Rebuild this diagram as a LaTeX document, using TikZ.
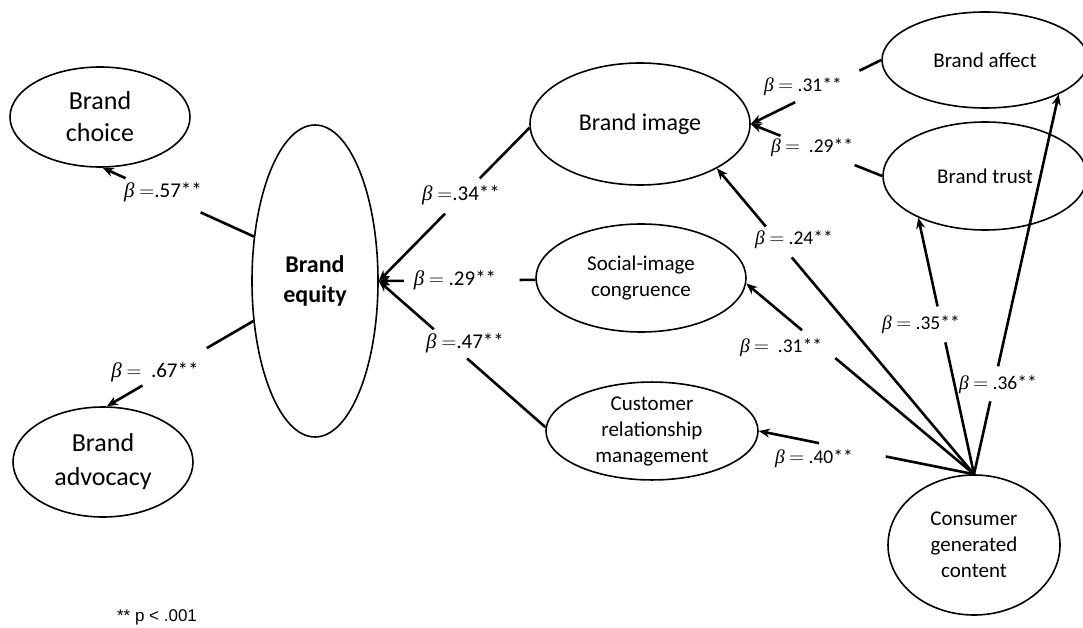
\documentclass[tikz,border=0pt]{standalone}
\usepackage{fontspec}
\setmainfont{Carlito}
\newfontfamily\notefont{Liberation Sans}
\newfontfamily\greekfont{Liberation Serif}
\usetikzlibrary{shapes.geometric,arrows.meta,calc}

% italic beta for the path coefficients
\newcommand{\bet}{{\greekfont\itshape β}}

% connector broken by a gap where its coefficient sits: source, target, gap start, gap end
\newcommand{\gaplink}[4]{%
  \draw[link] (#1) -- ($(#1)!#3!(#2)$);
  \draw[link,arr] ($(#1)!#4!(#2)$) -- (#2);}

\begin{document}
\begin{tikzpicture}[x=1pt,y=-1pt,
  latent/.style={draw,ellipse,line width=1.6pt,inner sep=0pt,align=center},
  link/.style={line width=2.6pt},
  arr/.style={-{Stealth[length=11pt,width=9pt]}},
  coefL/.style={font=\fontsize{21}{24}\selectfont,inner sep=0pt},
  coefR/.style={font=\fontsize{19.5}{22}\selectfont,inner sep=0pt}]

\useasboundingbox (0,0) rectangle (1083,628);

% constructs
\node[latent,minimum width=180pt,minimum height=100pt,font=\fontsize{26}{32}\selectfont] (bc) at (100,117) {Brand\\choice};
\node[latent,minimum width=180pt,minimum height=110pt,font=\fontsize{26}{34}\selectfont] (ba) at (103,462) {Brand\\advocacy};
\node[latent,minimum width=126pt,minimum height=312pt,font=\bfseries\fontsize{24}{30}\selectfont] (be) at (315,281) {Brand\\equity};
\node[latent,minimum width=220pt,minimum height=122pt,font=\fontsize{24}{28}\selectfont] (bi) at (640,124) {Brand image};
\node[latent,minimum width=210pt,minimum height=108pt,font=\fontsize{21}{26}\selectfont] (si) at (641,278) {Social-image\\congruence};
\node[latent,minimum width=212pt,minimum height=96pt,font=\fontsize{21}{26}\selectfont] (crm) at (652,431) {Customer\\relationship\\management};
\node[latent,minimum width=172pt,minimum height=140pt,font=\fontsize{21}{26}\selectfont] (cgc) at (974,545) {Consumer\\generated\\content};
\node[latent,minimum width=206pt,minimum height=96pt,font=\fontsize{21}{26}\selectfont] (baf) at (985,60) {Brand affect};
\node[latent,minimum width=204pt,minimum height=108pt,font=\fontsize{21}{26}\selectfont] (bt) at (985,176) {Brand trust};

% paths
\gaplink{be.144}{bc.-87}{0.352}{0.848}
\gaplink{be.213}{ba.86}{0.318}{0.757}
\gaplink{bi.182}{be.east}{0.33}{0.56}
\gaplink{si.181}{be.east}{0.10}{0.84}
\gaplink{crm.178}{be.east}{0.47}{0.67}
\gaplink{baf.west}{bi.east}{0.167}{0.66}
\gaplink{bt.west}{bi.east}{0.21}{0.774}
\gaplink{cgc.north}{bi.-30}{0.709}{0.81}
\gaplink{cgc.north}{si.-3}{0.609}{0.755}
\gaplink{cgc.north}{crm.east}{0.41}{0.72}
\gaplink{cgc.north}{bt.212}{0.514}{0.654}
\gaplink{cgc.north}{baf.-25}{0.192}{0.284}

% path coefficients
\node[coefL] (c57) at (163,192) {\bet{} \(=\).57**};
\node[coefL] (c67) at (155,372) {\bet{} \(=\)\hspace{0.45em}.67**};
\node[coefL] (c34) at (461,195) {\bet{} \(=\).34**};
\node[coefL] (c29) at (455,280) {\bet{} \(=\) .29**};
\node[coefL] (c47) at (465,343) {\bet{} \(=\).47**};
\node[coefR] (c31a) at (803,87) {\bet{} \(=\) .31**};
\node[coefR] (c29b) at (812,148) {\bet{} \(=\)\hspace{0.45em}.29**};
\node[coefR] (c24) at (794,240) {\bet{} \(=\) .24**};
\node[coefR] (c31b) at (781,348) {\bet{} \(=\)\hspace{0.45em}.31**};
\node[coefR] (c40) at (814,459) {\bet{} \(=\) .40**};
\node[coefR] (c35) at (921,325) {\bet{} \(=\) .35**};
\node[coefR] (c36) at (998,385) {\bet{} \(=\) .36**};

\node[font=\notefont\fontsize{17}{19}\selectfont,inner sep=0pt] (note) at (157,617) {** p < .001};
\end{tikzpicture}
\end{document}
